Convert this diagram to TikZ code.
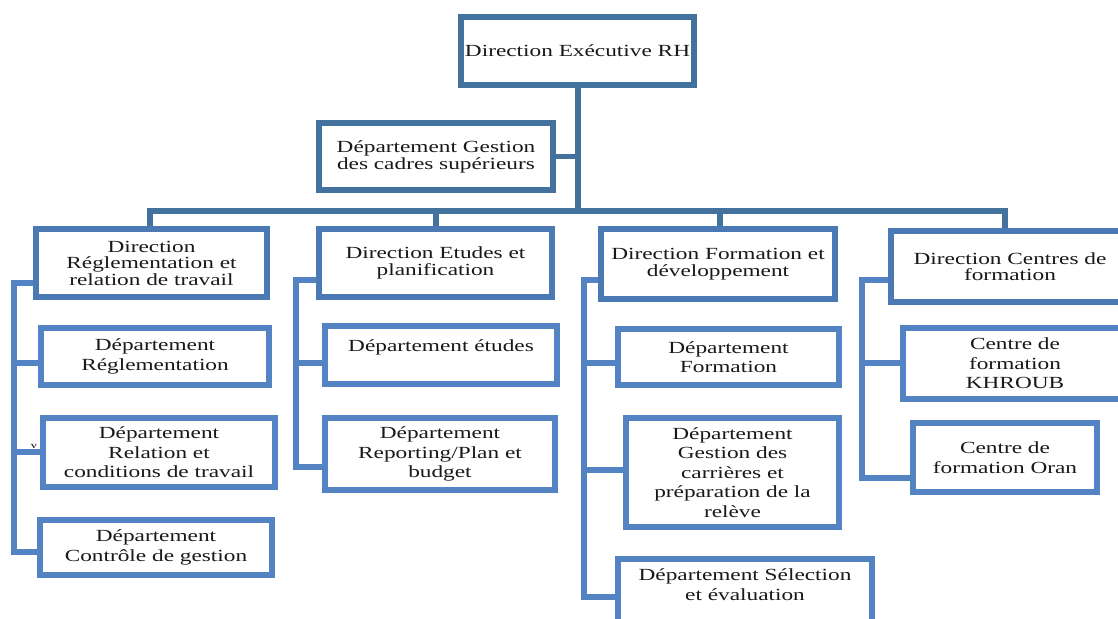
\documentclass[tikz,border=0pt]{standalone}
\usepackage{fontspec}
\setmainfont{Liberation Serif}[FakeStretch=1.37]
\definecolor{topblue}{HTML}{44729F}
\definecolor{midblue}{HTML}{4A79B3}
\definecolor{boxblue}{HTML}{5383C2}
\newcommand\dirfnt{\fontsize{17}{16.5}\selectfont}
\newcommand\gesfnt{\fontsize{17}{17}\selectfont}
\newcommand\depfnt{\fontsize{17}{19.5}\selectfont}
\tikzset{
  basebox/.style={draw, fill=white, line width=6pt, align=center, inner sep=0pt, text=black!90},
  topbox/.style={basebox, draw=topblue, font=\gesfnt},
  dirbox/.style={basebox, draw=midblue, font=\dirfnt},
  depbox/.style={basebox, draw=boxblue, font=\depfnt},
  topconn/.style={draw=topblue, line width=5.5pt},
  conn/.style={draw=boxblue, line width=5.5pt}
}
\begin{document}
\begin{tikzpicture}[x=1pt,y=-1pt]
\useasboundingbox (0,0) rectangle (1118,618);
\clip (0,0) rectangle (1118,618);
% top levels
\node[topbox, minimum width=233pt, minimum height=68pt] (top) at (577.5,51) {Direction Exécutive RH};
\node[topbox, minimum width=234pt, minimum height=67pt] (gest) at (436,156.5) {Département Gestion\\des cadres supérieurs};
% directions
\node[dirbox, minimum width=231pt, minimum height=68pt] (D1) at (151.5,263) {Direction\\Réglementation et\\relation de travail};
\node[dirbox, minimum width=233pt, minimum height=68pt] (D2) at (435.5,263) {Direction Etudes et\\planification};
\node[dirbox, minimum width=234pt, minimum height=70pt] (D3) at (718,264) {Direction Formation et\\développement};
\node[dirbox, minimum width=238pt, minimum height=71pt] (D4) at (1010,266.5) {Direction Centres de\\formation};
% departments
\node[depbox, minimum width=228pt, minimum height=57pt] (R1) at (155,356.5) {Département\\Réglementation};
\node[depbox, minimum width=232pt, minimum height=69pt] (R2) at (159,452.5) {Département\\Relation et\\conditions de travail};
\node[depbox, minimum width=232pt, minimum height=55pt] (R3) at (156,547.5) {Département\\Contrôle de gestion};
\node[depbox, minimum width=232pt, minimum height=58pt] (E1) at (441,355) {Département études\\~};
\node[depbox, minimum width=230pt, minimum height=72pt] (E2) at (440,454) {Département\\Reporting/Plan et\\budget};
\node[depbox, minimum width=221pt, minimum height=56pt] (F1) at (728.5,357) {Département\\Formation};
\node[depbox, minimum width=213pt, minimum height=109pt] (F2) at (732.5,472.5) {Département\\Gestion des\\carrières et\\préparation de la\\relève};
\node[depbox, minimum width=254pt, minimum height=90pt] (F3) at (745,604) {Département Sélection\\et évaluation\\~\\~};
\node[depbox, minimum width=224pt, minimum height=71pt] (K1) at (1015,363.5) {Centre de\\formation\\KHROUB};
\node[depbox, minimum width=184pt, minimum height=69pt] (K2) at (1005,457.5) {Centre de\\formation Oran};
\node[font=\fontsize{9}{9}\selectfont, inner sep=0pt] (stray) at (34,446) {v};
% trunk and bus
\coordinate (bus) at (578,211);
\coordinate (b1) at (150,211);
\coordinate (b2) at (436,211);
\coordinate (b3) at (720,211);
\coordinate (b4) at (1005,211);
\draw[topconn] (top.south -| bus) -- (bus);
\draw[topconn] (gest.east) -- (gest.east -| bus);
\draw[topconn] (b1 |- D1.north) -- (b1) -- (b4) -- (b4 |- D4.north);
\draw[topconn] (b2) -- (b2 |- D2.north);
\draw[topconn] (b3) -- (b3 |- D3.north);
% column 1
\coordinate (c1t) at (14,283);
\coordinate (c1a) at (14,363);
\coordinate (c1b) at (14,452);
\coordinate (c1c) at (14,552);
\draw[conn] (c1t -| D1.west) -- (c1t) -- (c1c) -- (c1c -| R3.west);
\draw[conn] (c1a) -- (c1a -| R1.west);
\draw[conn] (c1b) -- (c1b -| R2.west);
% column 2
\coordinate (c2t) at (296,280);
\coordinate (c2a) at (296,363);
\coordinate (c2b) at (296,467);
\draw[conn] (c2t -| D2.west) -- (c2t) -- (c2b) -- (c2b -| E2.west);
\draw[conn] (c2a) -- (c2a -| E1.west);
% column 3
\coordinate (c3t) at (584,280);
\coordinate (c3a) at (584,363);
\coordinate (c3b) at (584,470);
\coordinate (c3c) at (584,597);
\draw[conn] (c3t -| D3.west) -- (c3t) -- (c3c) -- (c3c -| F3.west);
\draw[conn] (c3a) -- (c3a -| F1.west);
\draw[conn] (c3b) -- (c3b -| F2.west);
% column 4
\coordinate (c4t) at (862,280);
\coordinate (c4a) at (862,363);
\coordinate (c4b) at (862,478);
\draw[conn] (c4t -| D4.west) -- (c4t) -- (c4b) -- (c4b -| K2.west);
\draw[conn] (c4a) -- (c4a -| K1.west);
\end{tikzpicture}
\end{document}
